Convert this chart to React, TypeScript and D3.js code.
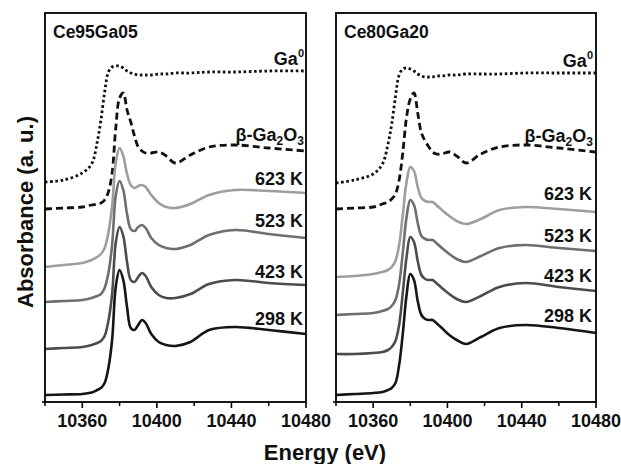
import React from "react";
import * as d3 from "d3";

// Energy grid (eV)
const energy = [10340, 10350, 10360, 10365, 10368, 10370, 10372, 10374, 10376, 10378, 10380, 10382, 10384, 10386, 10388, 10390, 10392, 10394, 10397, 10401, 10405, 10410, 10418, 10428, 10442, 10460, 10480];

// Ce95Ga05 panel (stacked absorbance, a.u.)
const leftGa0 = [220, 222, 229, 238, 260, 282, 310, 330, 335, 336, 336, 334, 331, 329, 328, 327, 327, 327, 327, 328, 328, 329, 329, 330, 330, 331, 331];
const leftGa2O3 = [193, 194, 195, 197, 198, 199, 202, 210, 229, 275, 304, 309, 292, 280, 266, 255, 251, 249, 249, 250, 246, 239, 247, 255, 257, 254, 251];
const left623 = [135, 137, 139, 142, 145, 148, 154, 169, 196, 240, 254, 246, 228, 217, 214, 216, 217, 215, 207, 199, 195, 194, 198, 207, 212, 211, 209];
const left523 = [100, 101, 102, 104, 106, 108, 114, 129, 157, 207, 221, 212, 188, 173, 171, 175, 177, 174, 164, 157, 154, 153, 157, 167, 172, 168, 164];
const left423 = [53, 54, 55, 57, 59, 61, 66, 81, 108, 160, 175, 166, 140, 122, 120, 125, 129, 126, 115, 107, 104, 104, 108, 118, 122, 119, 117];
const left298 = [7, 7.5, 8, 9.5, 12, 14, 19, 34, 62, 116, 132, 122, 95, 74, 72, 77, 82, 79, 68, 60, 57, 56, 60, 72, 75, 72, 68];

// Ce80Ga20 panel
const rightGa0 = [219, 222, 228, 238, 258, 278, 305, 327, 333, 334, 333, 331, 328, 326, 325, 325, 325, 326, 326, 327, 327, 328, 328, 328, 329, 329, 329];
const rightGa2O3 = [193, 194, 195, 198, 200, 203, 208, 222, 250, 285, 303, 309, 289, 269, 261, 255, 250, 248, 248, 250, 246, 239, 248, 255, 257, 254, 250];
const right623 = [125, 126, 128, 130, 132, 135, 141, 157, 188, 220, 235, 231, 215, 204, 201, 200, 200, 197, 192, 186, 181, 178, 183, 192, 195, 193, 190];
const right523 = [87, 88, 89, 91, 93, 96, 102, 118, 150, 185, 202, 197, 179, 166, 163, 162, 162, 159, 154, 148, 143, 140, 146, 154, 157, 154, 151];
const right423 = [48, 48, 49, 50, 52, 55, 61, 77, 110, 145, 165, 160, 141, 127, 123, 122, 122, 119, 114, 108, 103, 100, 106, 115, 119, 115, 111];
const right298 = [7, 8, 9, 10, 12, 14, 19, 37, 69, 107, 128, 122, 101, 87, 83, 82, 82, 79, 74, 67, 62, 58, 65, 74, 77, 74, 69];

const panelTitles = ["Ce95Ga05", "Ce80Ga20"];
const tempLabels = ["623 K", "523 K", "423 K", "298 K"];
const xTicks = [10360, 10400, 10440, 10480];
const xMinorTicks = [10340, 10380, 10420, 10460];

const FONT = "'Liberation Sans', Arial, sans-serif";
const W = 621;
const H = 464;
const TOP = 13;
const BOTTOM = 402;

const sampleColors = ["#9e9e9e", "#6e6e6e", "#4c4c4c", "#151515"];

type PanelProps = {
  x0: number;
  x1: number;
  title: string;
  ga0: number[];
  ga2o3: number[];
  samples: number[][];
  labelYs: number[];
  labelRight: number;
};

function Panel({ x0, x1, title, ga0, ga2o3, samples, labelYs, labelRight }: PanelProps) {
  const x = d3.scaleLinear().domain([10340, 10480]).range([x0, x1]);
  const y = d3.scaleLinear().domain([0, 389]).range([BOTTOM, TOP]);
  const line = (vals: number[]) =>
    d3
      .line<number>()
      .x((_, i) => x(energy[i]))
      .y((v) => y(v))
      .curve(d3.curveCatmullRom.alpha(0.5))(vals) as string;

  const fs = 18;
  return (
    <g>
      <path d={line(ga0)} fill="none" stroke="#111" strokeWidth={2.8} strokeDasharray="2.6 2.6" />
      <path d={line(ga2o3)} fill="none" stroke="#111" strokeWidth={2.8} strokeDasharray="7 4" />
      {samples.map((s, i) => (
        <path key={i} d={line(s)} fill="none" stroke={sampleColors[i]} strokeWidth={2.6} strokeLinejoin="round" />
      ))}
      <rect x={x0} y={TOP} width={x1 - x0} height={BOTTOM - TOP} fill="none" stroke="#000" strokeWidth={1.8} />
      {xTicks.map((t) => (
        <line key={"M" + t} x1={x(t)} x2={x(t)} y1={BOTTOM} y2={BOTTOM + 6} stroke="#000" strokeWidth={1.6} />
      ))}
      {xMinorTicks.map((t) => (
        <line key={"m" + t} x1={x(t)} x2={x(t)} y1={BOTTOM} y2={BOTTOM + 4} stroke="#000" strokeWidth={1.5} />
      ))}
      <line x1={x0 - 3} x2={x0} y1={BOTTOM} y2={BOTTOM} stroke="#000" strokeWidth={1.6} />
      {xTicks.map((t) => (
        <text key={"l" + t} x={x(t)} y={427} textAnchor="middle" fontFamily={FONT} fontWeight="bold" fontSize={18} fill="#111">
          {t}
        </text>
      ))}
      <text x={x0 + 8} y={38} fontFamily={FONT} fontWeight="bold" fontSize={17.5} fill="#111">
        {title}
      </text>
      <text x={labelRight + 1} y={labelYs[0]} textAnchor="end" fontFamily={FONT} fontWeight="bold" fontSize={fs} fill="#111">
        Ga
        <tspan fontSize={11} dy={-8}>0</tspan>
      </text>
      <text x={labelRight + 1} y={labelYs[1]} textAnchor="end" fontFamily={FONT} fontWeight="bold" fontSize={fs} fill="#111">
        β-Ga
        <tspan fontSize={12} dy={4}>2</tspan>
        <tspan dy={-4}>O</tspan>
        <tspan fontSize={12} dy={4}>3</tspan>
      </text>
      {tempLabels.map((t, i) => (
        <text key={t} x={labelRight} y={labelYs[i + 2]} textAnchor="end" fontFamily={FONT} fontWeight="bold" fontSize={fs} fill="#111">
          {t}
        </text>
      ))}
    </g>
  );
}

export default function App() {
  return (
    <svg width={W} height={H} style={{ position: "absolute", left: 0, top: 0, background: "#fff" }}>
      <rect x={0} y={0} width={W} height={H} fill="#fff" />
      <Panel
        x0={45}
        x1={306}
        title={panelTitles[0]}
        ga0={leftGa0}
        ga2o3={leftGa2O3}
        samples={[left623, left523, left423, left298]}
        labelYs={[65, 141, 185, 227, 278, 325]}
        labelRight={303}
      />
      <Panel
        x0={336}
        x1={596}
        title={panelTitles[1]}
        ga0={rightGa0}
        ga2o3={rightGa2O3}
        samples={[right623, right523, right423, right298]}
        labelYs={[67, 142, 200, 242, 282, 322]}
        labelRight={592}
      />
      <text
        transform={`translate(33, 212) rotate(-90)`}
        textAnchor="middle"
        fontFamily={FONT}
        fontWeight="bold"
        fontSize={22}
        fill="#111"
      >
        Absorbance (a. u.)
      </text>
      <text x={325} y={460} textAnchor="middle" fontFamily={FONT} fontWeight="bold" fontSize={22} fill="#111">
        Energy (eV)
      </text>
    </svg>
  );
}
